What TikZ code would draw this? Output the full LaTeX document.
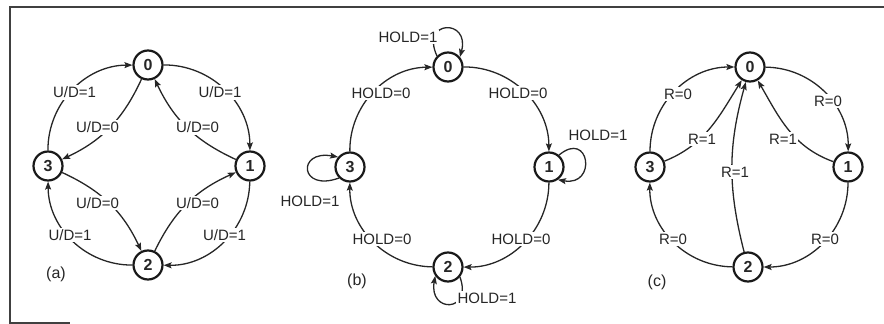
\documentclass[tikz,border=0pt]{standalone}
\usepackage{fontspec}
\setmainfont{Liberation Sans}
\usetikzlibrary{arrows.meta}
\begin{document}
\begin{tikzpicture}[x=1pt,y=-1pt,
  st/.style={circle,draw=black!90,line width=2.2pt,minimum size=29pt,inner sep=0pt,
             font=\fontsize{16}{16}\selectfont\bfseries,text=black!85},
  lbl/.style={fill=white,inner sep=1.5pt,font=\fontsize{15}{15}\selectfont,text=black!85},
  panelcap/.style={inner sep=0pt,font=\fontsize{16}{16}\selectfont,text=black!85},
  arr/.style={draw=black!85,line width=1.3pt,-{Stealth[length=8pt,width=6pt,inset=1.5pt]}},
  frame/.style={draw=black!75,line width=2.4pt}]
\useasboundingbox (0,0) rectangle (884,324);
% frame
\draw[frame] (10,7) -- (884,7);
\draw[frame] (10,6) -- (10,324);
\draw[frame] (10,323) -- (70,323);

% ---------- panel (a)
\node[st] (a0) at (148,65) {0};
\node[st] (a1) at (250,166) {1};
\node[st] (a2) at (148,265) {2};
\node[st] (a3) at (48,166) {3};
\draw[arr] (a3) to[bend left=45] (a0);
\draw[arr] (a0) to[bend left=45] (a1);
\draw[arr] (a1) to[bend left=45] (a2);
\draw[arr] (a2) to[bend left=45] (a3);
\draw[arr] (a0) to[bend left=20] (a3);
\draw[arr] (a3) to[bend left=20] (a2);
\draw[arr] (a2) to[bend left=20] (a1);
\draw[arr] (a1) to[bend left=20] (a0);
\node[lbl] (la1) at (74.5,92.5) {U/D=1};
\node[lbl] (la2) at (220,92.5) {U/D=1};
\node[lbl] (la3) at (97.5,127.5) {U/D=0};
\node[lbl] (la4) at (197.5,127.5) {U/D=0};
\node[lbl] (la5) at (97.5,203) {U/D=0};
\node[lbl] (la6) at (197.5,203) {U/D=0};
\node[lbl] (la7) at (70,235) {U/D=1};
\node[lbl] (la8) at (224.5,235) {U/D=1};
\node[panelcap] (capa) at (56,274) {(a)};

% ---------- panel (b)
\node[st] (b0) at (448,67) {0};
\node[st] (b1) at (549,167) {1};
\node[st] (b2) at (448,267) {2};
\node[st] (b3) at (350,167) {3};
\draw[arr] (b3) to[bend left=45] (b0);
\draw[arr] (b0) to[bend left=45] (b1);
\draw[arr] (b1) to[bend left=45] (b2);
\draw[arr] (b2) to[bend left=45] (b3);
\draw[arr] (b0.135) .. controls +(115:40pt) and +(75:40pt) .. (b0.40);
\draw[arr] (b3.225) .. controls +(200:42pt) and +(170:42pt) .. (b3.140);
\draw[arr] (b1.50) .. controls +(40:40pt) and +(-10:40pt) .. (b1.-55);
\draw[arr] (b2.-40) .. controls +(-70:38pt) and +(-100:38pt) .. (b2.215);
\node[lbl] (lb1) at (408,37) {HOLD=1};
\node[lbl] (lb2) at (381,93) {HOLD=0};
\node[lbl] (lb3) at (518,93) {HOLD=0};
\node[lbl] (lb4) at (598,135) {HOLD=1};
\node[lbl] (lb5) at (310,201) {HOLD=1};
\node[lbl] (lb6) at (382,239) {HOLD=0};
\node[lbl] (lb7) at (521,239) {HOLD=0};
\node[lbl] (lb8) at (487,298) {HOLD=1};
\node[panelcap] (capb) at (357,281) {(b)};

% ---------- panel (c)
\node[st] (c0) at (750,67) {0};
\node[st] (c1) at (848,167) {1};
\node[st] (c2) at (748,267) {2};
\node[st] (c3) at (650,167) {3};
\draw[arr] (c3) to[bend left=45] (c0);
\draw[arr] (c0) to[bend left=45] (c1);
\draw[arr] (c1) to[bend left=45] (c2);
\draw[arr] (c2) to[bend left=45] (c3);
\draw[arr] (c3) to[out=22,in=238] (c0);
\draw[arr] (c1) to[out=160,in=300] (c0);
\draw[arr] (c2) to[bend left=15] (c0);
\node[lbl] (lc1) at (678,94) {R=0};
\node[lbl] (lc2) at (828,101) {R=0};
\node[lbl] (lc3) at (702,139) {R=1};
\node[lbl] (lc4) at (783,139) {R=1};
\node[lbl] (lc5) at (735,172) {R=1};
\node[lbl] (lc6) at (673,239) {R=0};
\node[lbl] (lc7) at (825,239) {R=0};
\node[panelcap] (capc) at (657,282) {(c)};
\end{tikzpicture}
\end{document}
